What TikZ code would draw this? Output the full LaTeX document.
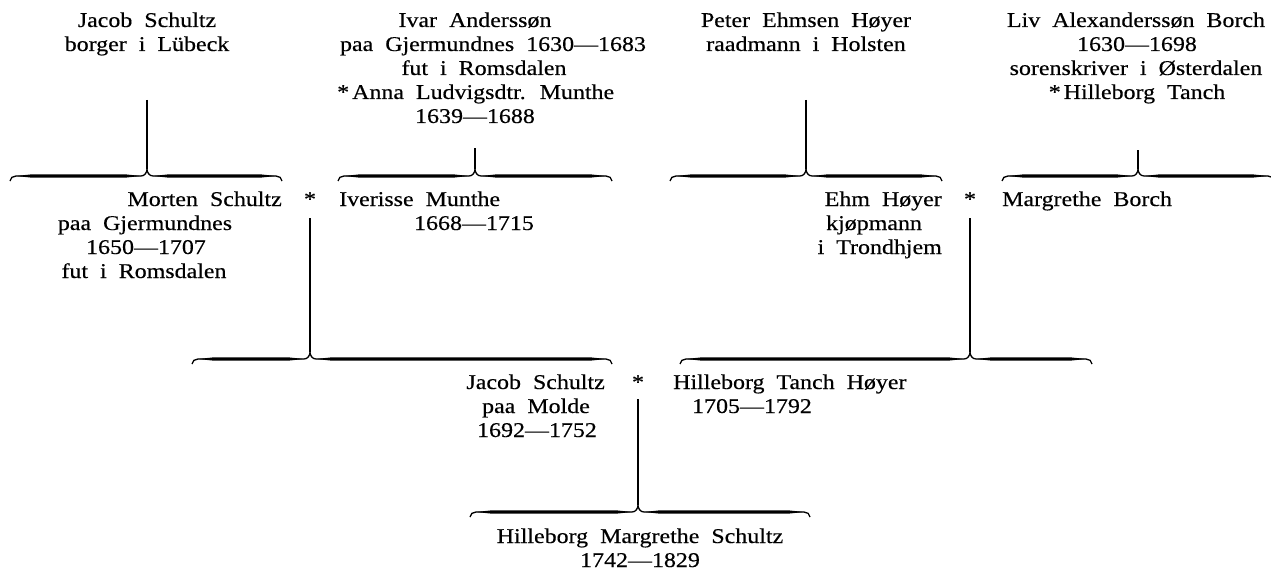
\documentclass[tikz,border=0pt]{standalone}
\usepackage{fontspec}
\setmainfont{Liberation Serif}[FakeStretch=1.14,FakeBold=0.4]
\newcommand\gfont{\fontsize{21}{24}\selectfont\spaceskip=12pt\relax}
\tikzset{
  txt/.style={inner sep=0pt, font=\gfont},
  conn/.style={line width=1.3pt},
  bthin/.style={line width=1.3pt},
  bthick/.style={fill=black, draw=none},
}
% #1 name, #2 left x, #3 tip x, #4 right x, #5 y (downwards)
\newcommand\fambrace[5]{%
  \coordinate (#1-l) at (#2,-#5-5);
  \coordinate (#1-t) at (#3,-#5+7);
  \coordinate (#1-r) at (#4,-#5-5);
  \draw[bthin] (#1-l) to[out=90,in=180] (#2+6,-#5) -- (#3-6,-#5)
     to[out=0,in=-90] (#1-t) to[out=-90,in=180] (#3+6,-#5) -- (#4-6,-#5)
     to[out=0,in=90] (#1-r);
  \fill[bthick] (#2+6,-#5) -- (#2+22,-#5+1.7) -- (#3-22,-#5+1.7) -- (#3-6,-#5)
     -- (#3-22,-#5-1.7) -- (#2+22,-#5-1.7) -- cycle;
  \fill[bthick] (#3+6,-#5) -- (#3+22,-#5+1.7) -- (#4-22,-#5+1.7) -- (#4-6,-#5)
     -- (#4-22,-#5-1.7) -- (#3+22,-#5-1.7) -- cycle;
}
\begin{document}
\begin{tikzpicture}[x=1pt,y=1pt]
\useasboundingbox (0,0) rectangle (1271,-575);

% ---------- generation 1 ----------
\node[txt, anchor=base] (js1) at (147,-27) {Jacob Schultz};
\node[txt, anchor=base] (js2) at (147,-51) {borger i Lübeck};

\node[txt, anchor=base] (ia1) at (475,-27) {Ivar Anderssøn};
\node[txt, anchor=base] (ia2) at (493,-51) {paa Gjermundnes 1630—1683};
\node[txt, anchor=base] (ia3) at (484,-75) {fut i Romsdalen};
\node[txt, anchor=base west] (ia4) at (337,-99) {*\hspace{3pt}Anna Ludvigsdtr. Munthe};
\node[txt, anchor=base] (ia5) at (475,-123) {1639—1688};

\node[txt, anchor=base] (ph1) at (806,-27) {Peter Ehmsen Høyer};
\node[txt, anchor=base] (ph2) at (806,-51) {raadmann i Holsten};

\node[txt, anchor=base] (lb1) at (1136,-27) {Liv Alexanderssøn Borch};
\node[txt, anchor=base] (lb2) at (1137,-51) {1630—1698};
\node[txt, anchor=base] (lb3) at (1136,-75) {sorenskriver i Østerdalen};
\node[txt, anchor=base] (lb4) at (1137,-99) {*\hspace{3pt}Hilleborg Tanch};

\fambrace{B1}{10}{147}{282}{176}
\fambrace{B2}{338}{475}{612}{176}
\fambrace{B3}{670}{806}{942}{176}
\fambrace{B4}{1002}{1138}{1274}{176}

\coordinate (jsTop) at (147,-100);
\coordinate (iaTop) at (475,-148);
\coordinate (phTop) at (806,-100);
\coordinate (lbTop) at (1138,-150);
\draw[conn] (jsTop) -- (B1-t);
\draw[conn] (iaTop) -- (B2-t);
\draw[conn] (phTop) -- (B3-t);
\draw[conn] (lbTop) -- (B4-t);

% ---------- generation 2 ----------
\node[txt, anchor=base east] (ms1) at (282,-206) {Morten Schultz};
\node[txt, anchor=base] (ms2) at (145,-230) {paa Gjermundnes};
\node[txt, anchor=base] (ms3) at (146,-254) {1650—1707};
\node[txt, anchor=base] (ms4) at (144,-278) {fut i Romsdalen};
\node[txt, anchor=base] (mar1) at (310,-206) {*};
\node[txt, anchor=base west] (im1) at (339,-206) {Iverisse Munthe};
\node[txt, anchor=base] (im2) at (474,-230) {1668—1715};

\node[txt, anchor=base east] (eh1) at (942,-206) {Ehm Høyer};
\node[txt, anchor=base] (eh2) at (874,-230) {kjøpmann};
\node[txt, anchor=base east] (eh3) at (942,-254) {i Trondhjem};
\node[txt, anchor=base] (mar2) at (970,-206) {*};
\node[txt, anchor=base west] (mb1) at (1002,-206) {Margrethe Borch};

\fambrace{B5}{192}{310}{612}{359}
\fambrace{B6}{680}{970}{1092}{359}
\coordinate (mar1b) at (310,-218);
\coordinate (mar2b) at (970,-218);
\draw[conn] (mar1b) -- (B5-t);
\draw[conn] (mar2b) -- (B6-t);

% ---------- generation 3 ----------
\node[txt, anchor=base east] (jm1) at (605,-389) {Jacob Schultz};
\node[txt, anchor=base] (jm2) at (536,-413) {paa Molde};
\node[txt, anchor=base] (jm3) at (537,-437) {1692—1752};
\node[txt, anchor=base] (mar3) at (638,-389) {*};
\node[txt, anchor=base west] (ht1) at (673,-389) {Hilleborg Tanch Høyer};
\node[txt, anchor=base] (ht2) at (752,-413) {1705—1792};

\fambrace{B7}{470}{638}{810}{512}
\coordinate (mar3b) at (638,-399);
\draw[conn] (mar3b) -- (B7-t);

% ---------- generation 4 ----------
\node[txt, anchor=base] (hm1) at (640,-543) {Hilleborg Margrethe Schultz};
\node[txt, anchor=base] (hm2) at (640,-567) {1742—1829};
\end{tikzpicture}
\end{document}
